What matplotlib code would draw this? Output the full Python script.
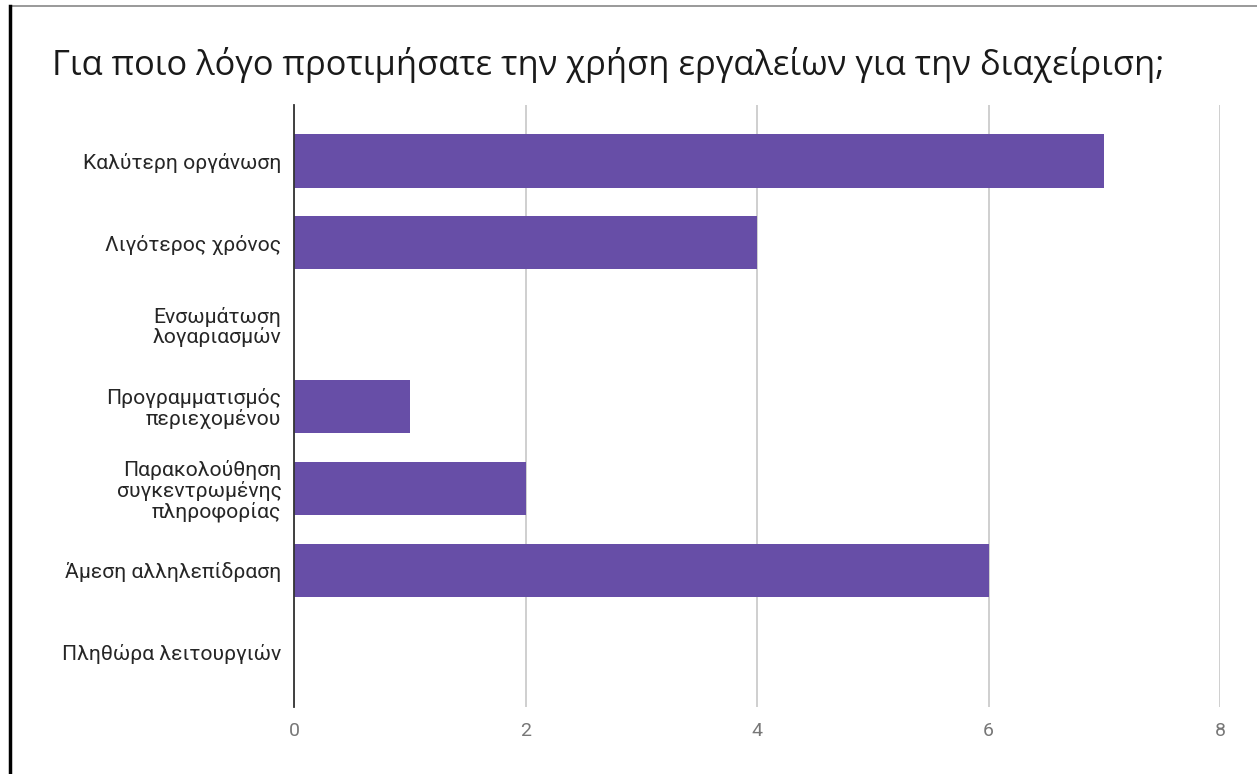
import matplotlib
matplotlib.use("Agg")
import matplotlib.pyplot as plt
from matplotlib.lines import Line2D

# survey answers and their counts
categories = [
    "Καλύτερη οργάνωση",
    "Λιγότερος χρόνος",
    "Ενσωμάτωση\nλογαριασμών",
    "Προγραμματισμός\nπεριεχομένου",
    "Παρακολούθηση\nσυγκεντρωμένης\nπληροφορίας",
    "Άμεση αλληλεπίδραση",
    "Πληθώρα λειτουργιών",
]
counts = [7, 4, 0, 1, 2, 6, 0]
x_ticks = [0, 2, 4, 6, 8]

title = "Για ποιο λόγο προτιμήσατε την χρήση εργαλείων για την διαχείριση;"
bar_color = "#674ea7"

fig = plt.figure(figsize=(12.57, 7.74), dpi=100)
ax = fig.add_axes([294 / 1257, 1 - 707 / 774, (1220 - 294) / 1257, (707 - 105) / 774])

ypos = list(range(len(categories)))
ax.barh(ypos, counts, height=0.65, color=bar_color, zorder=3)

ax.set_ylim(len(categories) - 1 + 0.672, -0.684)
ax.set_xlim(0, 8)
ax.set_xticks(x_ticks)
ax.set_xticklabels([str(t) for t in x_ticks], fontfamily="Roboto", fontsize=14, color="#777777")
ax.set_yticks(ypos)
ax.set_yticklabels(categories, fontfamily="Roboto", fontsize=15.2, color="#262626",
                   linespacing=1.05)
ax.tick_params(axis="both", length=0)
ax.tick_params(axis="x", pad=11)
ax.tick_params(axis="y", pad=9)

ax.grid(axis="x", color="#cccccc", linewidth=1.3, zorder=0)
for s in ["top", "right", "bottom"]:
    ax.spines[s].set_visible(False)
ax.spines["left"].set_color("#333333")
ax.spines["left"].set_linewidth(1.3)
ax.spines["left"].set_zorder(4)

fig.text(52 / 1257, 1 - 65 / 774, title, fontfamily="Open Sans", fontsize=24.85,
         color="#1a1a1a", va="center", ha="left")

# frame edges
fig.add_artist(Line2D([10 / 1257, 1], [1 - 6 / 774, 1 - 6 / 774], color="#888888", lw=1.2))
fig.add_artist(Line2D([9.5 / 1257, 9.5 / 1257], [0, 1 - 6 / 774], color="black", lw=2.5))

fig.savefig("out.png", dpi=100, facecolor="white")
